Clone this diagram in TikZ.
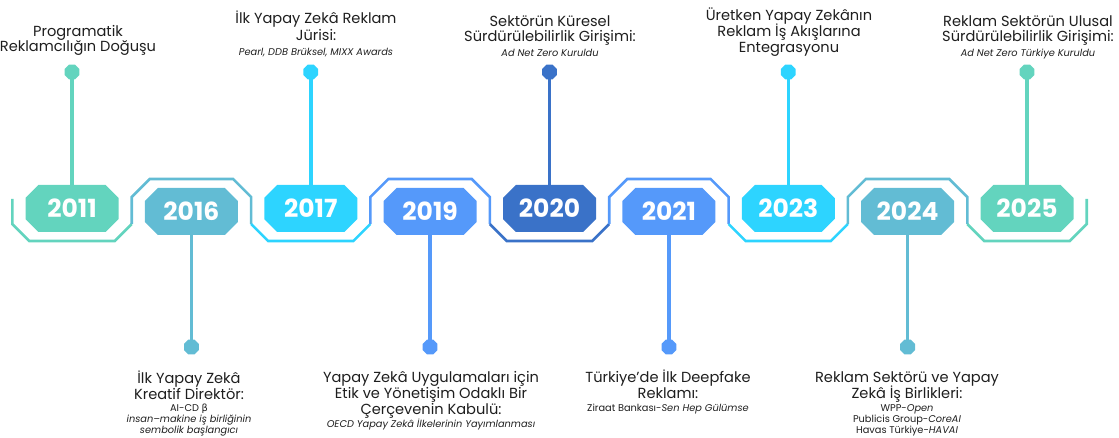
\documentclass[tikz,border=0pt]{standalone}
\usepackage{fontspec}
\setmainfont{Poppins}
\newfontfamily\dejavu{DejaVu Sans}
\usetikzlibrary{shapes.misc,shapes.geometric}
\definecolor{cTeal}{HTML}{63D4BE}
\definecolor{cSteel}{HTML}{62BCD4}
\definecolor{cCyan}{HTML}{2DD4FF}
\definecolor{cBlue}{HTML}{5599FA}
\definecolor{cNavy}{HTML}{3A72C8}
\definecolor{cText}{HTML}{1E1E1E}
\begin{document}
\begin{tikzpicture}[x=1pt,y=-1pt,
 yearbox/.style={chamfered rectangle, chamfered rectangle xsep=10pt, minimum width=93pt, minimum height=47pt, inner sep=0pt, fill=#1, text=white, font=\fontsize{25}{25}\selectfont\bfseries},
 dotmark/.style={regular polygon, regular polygon sides=8, minimum size=16pt, inner sep=0pt, fill=#1},
 stemline/.style={draw=#1, line width=3.5pt},
 frameline/.style={draw=#1, line width=2.6pt, line join=miter},
 headtxt/.style={anchor=base, inner sep=0pt, text=cText, font=\fontsize{14.6}{16}\selectfont},
 subtxt/.style={anchor=base, inner sep=0pt, text=cText, font=\fontsize{9.8}{11}\selectfont},
]
\useasboundingbox (0,0) rectangle (1119,438);

% frame zigzag
\draw[frameline=cTeal]  (12.3,199) -- (12.3,224) -- (29.3,241) -- (114.7,241) -- (131.7,224);
\draw[frameline=cSteel] (131.7,224) -- (131.7,197) -- (149.7,179) -- (233.1,179) -- (251.1,197) -- (251.1,224);
\draw[frameline=cCyan]  (251.1,224) -- (268.1,241) -- (353.4,241) -- (370.4,224);
\draw[frameline=cBlue]  (370.4,224) -- (370.4,197) -- (388.4,179) -- (471.8,179) -- (489.8,197) -- (489.8,224);
\draw[frameline=cNavy]  (489.8,224) -- (506.8,241) -- (592.2,241) -- (609.2,224);
\draw[frameline=cBlue]  (609.2,224) -- (609.2,197) -- (627.2,179) -- (710.6,179) -- (728.6,197) -- (728.6,224);
\draw[frameline=cCyan]  (728.6,224) -- (745.6,241) -- (830.9,241) -- (847.9,224);
\draw[frameline=cSteel] (847.9,224) -- (847.9,197) -- (865.9,179) -- (949.3,179) -- (967.3,197) -- (967.3,224);
\draw[frameline=cTeal]  (967.3,224) -- (984.3,241) -- (1069.7,241) -- (1086.7,224) -- (1086.7,199);

% year boxes
\node[yearbox=cTeal]  (b2011) at (72,208.5)   {2011};
\node[yearbox=cSteel] (b2016) at (191.4,211.5) {2016};
\node[yearbox=cCyan]  (b2017) at (310.75,208.5) {2017};
\node[yearbox=cBlue]  (b2019) at (430.1,211.5) {2019};
\node[yearbox=cNavy]  (b2020) at (549.5,208.5) {2020};
\node[yearbox=cBlue]  (b2021) at (668.9,211.5) {2021};
\node[yearbox=cCyan]  (b2023) at (788.25,208.5) {2023};
\node[yearbox=cSteel] (b2024) at (907.6,211.5) {2024};
\node[yearbox=cTeal]  (b2025) at (1027,208.5)  {2025};

% dots
\node[dotmark=cTeal]  (d2011) at (72,72) {};
\node[dotmark=cSteel] (d2016) at (191.4,347) {};
\node[dotmark=cCyan]  (d2017) at (310.75,72) {};
\node[dotmark=cBlue]  (d2019) at (430.1,347) {};
\node[dotmark=cNavy]  (d2020) at (549.5,72) {};
\node[dotmark=cBlue]  (d2021) at (668.9,347) {};
\node[dotmark=cCyan]  (d2023) at (788.25,72) {};
\node[dotmark=cSteel] (d2024) at (907.6,347) {};
\node[dotmark=cTeal]  (d2025) at (1027,72) {};

% stems
\draw[stemline=cTeal]  (d2011.center) -- (b2011.north);
\draw[stemline=cSteel] (b2016.south) -- (d2016.center);
\draw[stemline=cCyan]  (d2017.center) -- (b2017.north);
\draw[stemline=cBlue]  (b2019.south) -- (d2019.center);
\draw[stemline=cNavy]  (d2020.center) -- (b2020.north);
\draw[stemline=cBlue]  (b2021.south) -- (d2021.center);
\draw[stemline=cCyan]  (d2023.center) -- (b2023.north);
\draw[stemline=cSteel] (b2024.south) -- (d2024.center);
\draw[stemline=cTeal]  (d2025.center) -- (b2025.north);

% top texts
\node[headtxt] (t11a) at (78,37) {Programatik};
\node[headtxt] (t11b) at (78,52) {Reklamcılığın Doğuşu};

\node[headtxt] (t17a) at (316,24) {İlk Yapay Zekâ Reklam};
\node[headtxt] (t17b) at (316,41) {Jürisi:};
\node[subtxt]  (t17c) at (316,56) {\itshape Pearl, DDB Brüksel, MIXX Awards};

\node[headtxt] (t20a) at (550,27) {Sektörün Küresel};
\node[headtxt] (t20b) at (550,42) {Sürdürülebilirlik Girişimi:};
\node[subtxt]  (t20c) at (550,57) {\itshape Ad Net Zero Kuruldu};

\node[headtxt] (t23a) at (789,21) {Üretken Yapay Zekânın};
\node[headtxt] (t23b) at (789,37) {Reklam İş Akışlarına};
\node[headtxt] (t23c) at (789,53) {Entegrasyonu};

\node[headtxt] (t25a) at (1028,27) {Reklam Sektörün Ulusal};
\node[headtxt] (t25b) at (1028,42) {Sürdürülebilirlik Girişimi:};
\node[subtxt]  (t25c) at (1028,57) {\itshape Ad Net Zero Türkiye Kuruldu};

% bottom texts
\node[headtxt] (t16a) at (189,383) {İlk Yapay Zekâ};
\node[headtxt] (t16b) at (189,399) {Kreatif Direktör:};
\node[subtxt]  (t16c) at (189,411) {AI-CD {\dejavu β}};
\node[subtxt]  (t16d) at (189,422) {\itshape insan–makine iş birliğinin};
\node[subtxt]  (t16e) at (189,433) {\itshape sembolik başlangıcı};

\node[headtxt] (t19a) at (431,382) {Yapay Zekâ Uygulamaları için};
\node[headtxt] (t19b) at (431,398) {Etik ve Yönetişim Odaklı Bir};
\node[headtxt] (t19c) at (431,414) {Çerçevenin Kabulü:};
\node[subtxt]  (t19d) at (431,427) {\itshape OECD Yapay Zekâ İlkelerinin Yayımlanması};

\node[headtxt] (t21a) at (668,382) {Türkiye’de İlk Deepfake};
\node[headtxt] (t21b) at (668,398) {Reklamı:};
\node[subtxt]  (t21c) at (668,411) {Ziraat Bankası-\textit{Sen Hep Gülümse}};

\node[headtxt] (t24a) at (907,382) {Reklam Sektörü ve Yapay};
\node[headtxt] (t24b) at (907,398) {Zekâ İş Birlikleri:};
\node[subtxt]  (t24c) at (907,411) {WPP-\textit{Open}};
\node[subtxt]  (t24d) at (907,422) {Publicis Group-\textit{CoreAI}};
\node[subtxt]  (t24e) at (907,433) {Havas Türkiye-\textit{HAVAI}};
\end{tikzpicture}
\end{document}
